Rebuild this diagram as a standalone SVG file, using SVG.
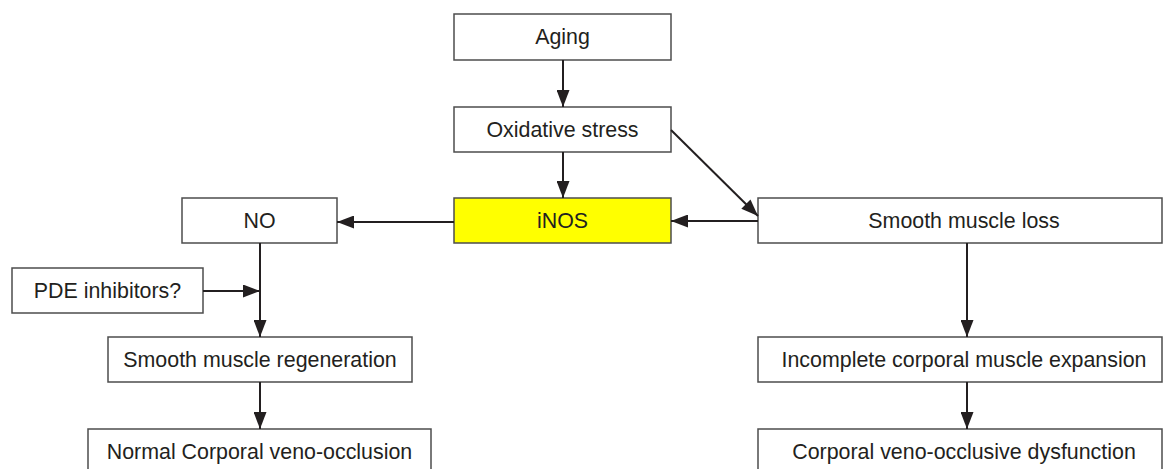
<svg xmlns="http://www.w3.org/2000/svg" width="1164" height="469" viewBox="0 0 1164 469">
<defs>
<marker id="ah" markerWidth="17" markerHeight="13" refX="17" refY="6.5" orient="auto" markerUnits="userSpaceOnUse">
<path d="M0,0 L17,6.5 L0,13 Z" fill="#231f20"/>
</marker>
</defs>
<style>
.box{fill:#ffffff;stroke:#4d4d4d;stroke-width:1.5}
.hl{fill:#ffff00}
.t{font-family:"Liberation Sans",Arial,sans-serif;font-size:21.4px;fill:#231f20;text-anchor:middle;dominant-baseline:central}
.c{stroke:#231f20;stroke-width:2;fill:none;marker-end:url(#ah)}
</style>
<rect width="1164" height="469" fill="#ffffff"/>
<g id="aging"><rect class="box" x="454" y="14" width="217" height="46"/><text class="t" x="562.5" y="37">Aging</text></g>
<g id="oxidative"><rect class="box" x="454" y="107" width="217" height="45"/><text class="t" x="562.5" y="130">Oxidative stress</text></g>
<g id="inos"><rect class="box hl" x="454" y="198" width="217" height="45"/><text class="t" x="562.5" y="221">iNOS</text></g>
<g id="sml"><rect class="box" x="758" y="198" width="404" height="45"/><text class="t" x="964" y="221">Smooth muscle loss</text></g>
<g id="no"><rect class="box" x="182" y="198" width="155" height="45"/><text class="t" x="259.5" y="221">NO</text></g>
<g id="pde"><rect class="box" x="12" y="268" width="191" height="45"/><text class="t" x="107.5" y="291">PDE inhibitors?</text></g>
<g id="smr"><rect class="box" x="108" y="337" width="304" height="45"/><text class="t" x="260" y="360">Smooth muscle regeneration</text></g>
<g id="ncvo"><rect class="box" x="88" y="429" width="343" height="50"/><text class="t" x="259.5" y="452">Normal Corporal veno-occlusion</text></g>
<g id="icme"><rect class="box" x="758" y="337" width="404" height="45"/><text class="t" x="964" y="360">Incomplete corporal muscle expansion</text></g>
<g id="cvod"><rect class="box" x="758" y="429" width="404" height="50"/><text class="t" x="964" y="452">Corporal veno-occlusive dysfunction</text></g>
<g id="connectors">
<line class="c" x1="563" y1="60" x2="563" y2="107"/>
<line class="c" x1="563" y1="152" x2="563" y2="198"/>
<line class="c" x1="671" y1="130" x2="758" y2="216"/>
<line class="c" x1="758" y1="221" x2="671" y2="221"/>
<line class="c" x1="454" y1="222" x2="337" y2="222"/>
<line class="c" x1="260" y1="243" x2="260" y2="337"/>
<line class="c" x1="203" y1="291" x2="260" y2="291"/>
<line class="c" x1="260" y1="382" x2="260" y2="429"/>
<line class="c" x1="967" y1="243" x2="967" y2="337"/>
<line class="c" x1="967" y1="382" x2="967" y2="429"/>
</g>
</svg>
